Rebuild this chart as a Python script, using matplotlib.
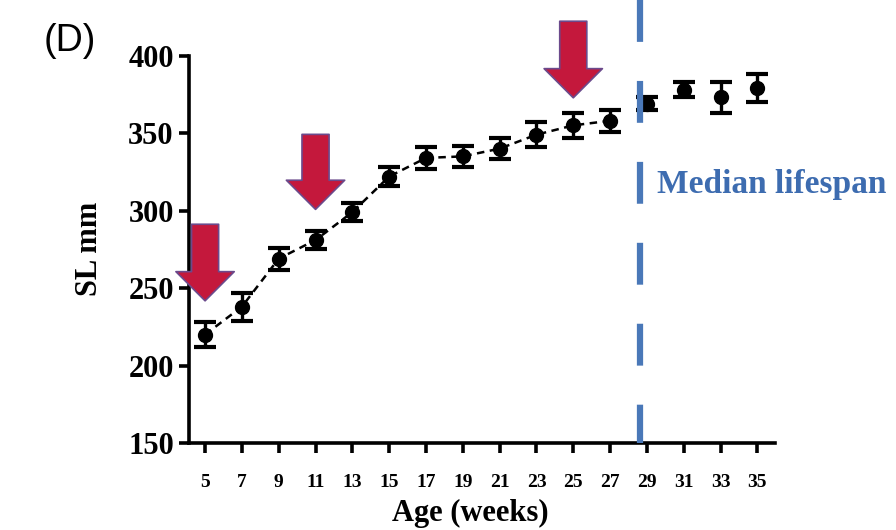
import matplotlib
matplotlib.use('Agg')
import matplotlib.pyplot as plt
from matplotlib.patches import FancyArrowPatch

# age in weeks and standard length (mean, error)
weeks = [5, 7, 9, 11, 13, 15, 17, 19, 21, 23, 25, 27, 29, 31, 33, 35]
sl_mean = [220, 238, 269, 281, 299, 322, 334, 335, 340, 349, 355, 358, 369, 378, 373, 379]
sl_err = [8, 9, 7, 6, 6, 6, 7, 7, 7, 8, 8, 7, 4, 5, 10, 9]
# the dashed trend line only joins points before the median lifespan
n_joined = 12
# red arrows: week, top and tip value
arrow_weeks = [5, 11, 25]
arrow_top = [293, 351, 424]
arrow_tip = [240, 299, 371]
median_week = 28.6

serif = 'Liberation Serif'

fig = plt.figure(figsize=(8.96, 5.30), dpi=100)
ax = fig.add_axes([0.211, 0.164, 0.654, 0.731])

# dashed line through the early points
ax.plot(weeks[:n_joined], sl_mean[:n_joined], color='black', lw=1.8,
        dashes=(3, 2.2), zorder=2)
# points with error bars
ax.errorbar(weeks, sl_mean, yerr=sl_err, fmt='o', color='black', ms=10,
            elinewidth=2.4, capsize=8, capthick=3, zorder=3)

# median lifespan line, drawn from the top of the figure down to the axis
ax.plot([median_week, median_week], [1.143, 0], transform=ax.get_xaxis_transform(),
        color='#4a78b8', lw=4.5, dashes=(6.7, 6.25), dash_capstyle='butt',
        clip_on=False, zorder=4)
ax.text(29.55, 317, 'Median lifespan', color='#3d6cb0', fontsize=24,
        fontweight='bold', family=serif, va='center', ha='left')

# red arrows
for x, top, tip in zip(arrow_weeks, arrow_top, arrow_tip):
    arr = FancyArrowPatch((x, top), (x, tip),
                          arrowstyle='simple,head_length=0.7,head_width=1.4,tail_width=0.65',
                          mutation_scale=30, facecolor='#c4183c', edgecolor='#6b4a8c',
                          lw=1.2, clip_on=False, zorder=5)
    ax.add_patch(arr)

ax.set_xlim(4.13, 35.96)
ax.set_ylim(150, 400)
ax.set_xticks(weeks)
ax.set_yticks([150, 200, 250, 300, 350, 400])

for s in ['top', 'right']:
    ax.spines[s].set_visible(False)
for s in ['left', 'bottom']:
    ax.spines[s].set_linewidth(2.6)

ax.tick_params(axis='both', direction='out', length=7, width=2.6)
ax.tick_params(axis='x', pad=15)
ax.tick_params(axis='y', pad=4)
for lab in ax.get_xticklabels():
    lab.set_family(serif)
    lab.set_fontsize(14)
    lab.set_fontweight('bold')
for lab in ax.get_yticklabels():
    lab.set_family(serif)
    lab.set_fontsize(22)
    lab.set_fontweight('bold')

ax.set_xlabel('Age (weeks)', family=serif, fontsize=22, fontweight='bold')
ax.xaxis.set_label_coords(0.48, -0.145)
ax.set_ylabel('SL mm', family=serif, fontsize=22, fontweight='bold')
ax.yaxis.set_label_coords(-0.146, 0.5)

fig.text(0.078, 0.922, '(D)', fontsize=27, family='Liberation Sans', ha='center', va='center')

plt.savefig('out.png', dpi=100)
